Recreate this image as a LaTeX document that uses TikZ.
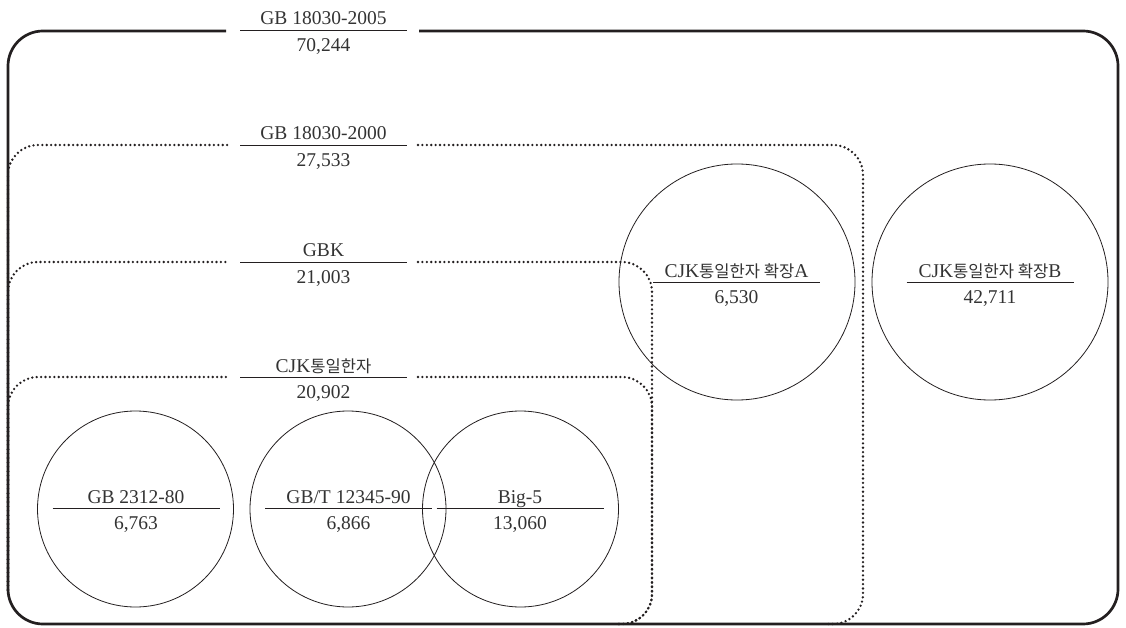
\documentclass[tikz,border=0pt]{standalone}
\usepackage{fontspec}
\setmainfont{Liberation Serif}
\newfontfamily\kr{Noto Sans CJK KR}[Scale=0.85]
\definecolor{ink}{HTML}{231F20}
\definecolor{txt}{HTML}{333333}
\newcommand\labelpair[5]{%
  \coordinate (#1-l) at (#2-83.5,#3);
  \coordinate (#1-r) at (#2+83.5,#3);
  \draw[capline] (#1-l) -- (#1-r);
  \node[lbl] (#1-name) at (#2,#3-5) {#4};
  \node[lbl] (#1-num) at (#2,#3+21.5) {#5};
}
\begin{document}
\begin{tikzpicture}[x=1pt,y=-1pt,
  lbl/.style={anchor=base,inner sep=0pt,text=txt,font=\fontsize{19.5}{22}\selectfont},
  capline/.style={draw=ink,line width=0.9pt},
  ring/.style={draw=ink,line width=0.8pt},
  solidbox/.style={draw=ink,line width=2.7pt,rounded corners=35pt},
  dotbox/.style={draw=ink,line width=2.6pt,line cap=round,dash pattern=on 0pt off 4.4pt,rounded corners=30pt}]
\useasboundingbox (0,0) rectangle (1126,628);

% dotted boxes
\draw[dotbox] (8,590) -- (8,145) -- (228,145);
\draw[dotbox] (418,145) -- (863,145) -- (863,624) -- (828,624);
\draw[dotbox] (8,590) -- (8,262) -- (228,262);
\draw[dotbox] (418,262) -- (652,262) -- (652,624) -- (618,624);
\draw[dotbox] (8,590) -- (8,377) -- (228,377);
\draw[dotbox] (418,377) -- (652,377) -- (652,624) -- (618,624);

% outer solid box
\draw[solidbox] (226,31) -- (8,31) -- (8,624) -- (1118,624) -- (1118,31) -- (419,31);

% circles
\node[ring,circle,minimum size=196pt,inner sep=0pt] (c1) at (135.5,509) {};
\node[ring,circle,minimum size=196pt,inner sep=0pt] (c2) at (348,509) {};
\node[ring,circle,minimum size=196pt,inner sep=0pt] (c3) at (520.5,509) {};
\node[ring,circle,minimum size=236pt,inner sep=0pt] (c4) at (737,282) {};
\node[ring,circle,minimum size=236pt,inner sep=0pt] (c5) at (990,282) {};

% labels
\labelpair{t1}{323.5}{30}{GB 18030-2005}{70,244}
\labelpair{t2}{323.5}{145}{GB 18030-2000}{27,533}
\labelpair{t3}{323.5}{262}{GBK}{21,003}
\labelpair{t4}{323.5}{377}{CJK{\kr 통일한자}}{20,902}
\labelpair{l1}{136}{508}{GB 2312-80}{6,763}
\labelpair{l2}{348.5}{508}{GB/T 12345-90}{6,866}
\labelpair{l3}{520}{508}{Big-5}{13,060}
\labelpair{l4}{736.5}{282}{CJK{\kr 통일한자 확장}A}{6,530}
\labelpair{l5}{990}{282}{CJK{\kr 통일한자 확장}B}{42,711}
\end{tikzpicture}
\end{document}
